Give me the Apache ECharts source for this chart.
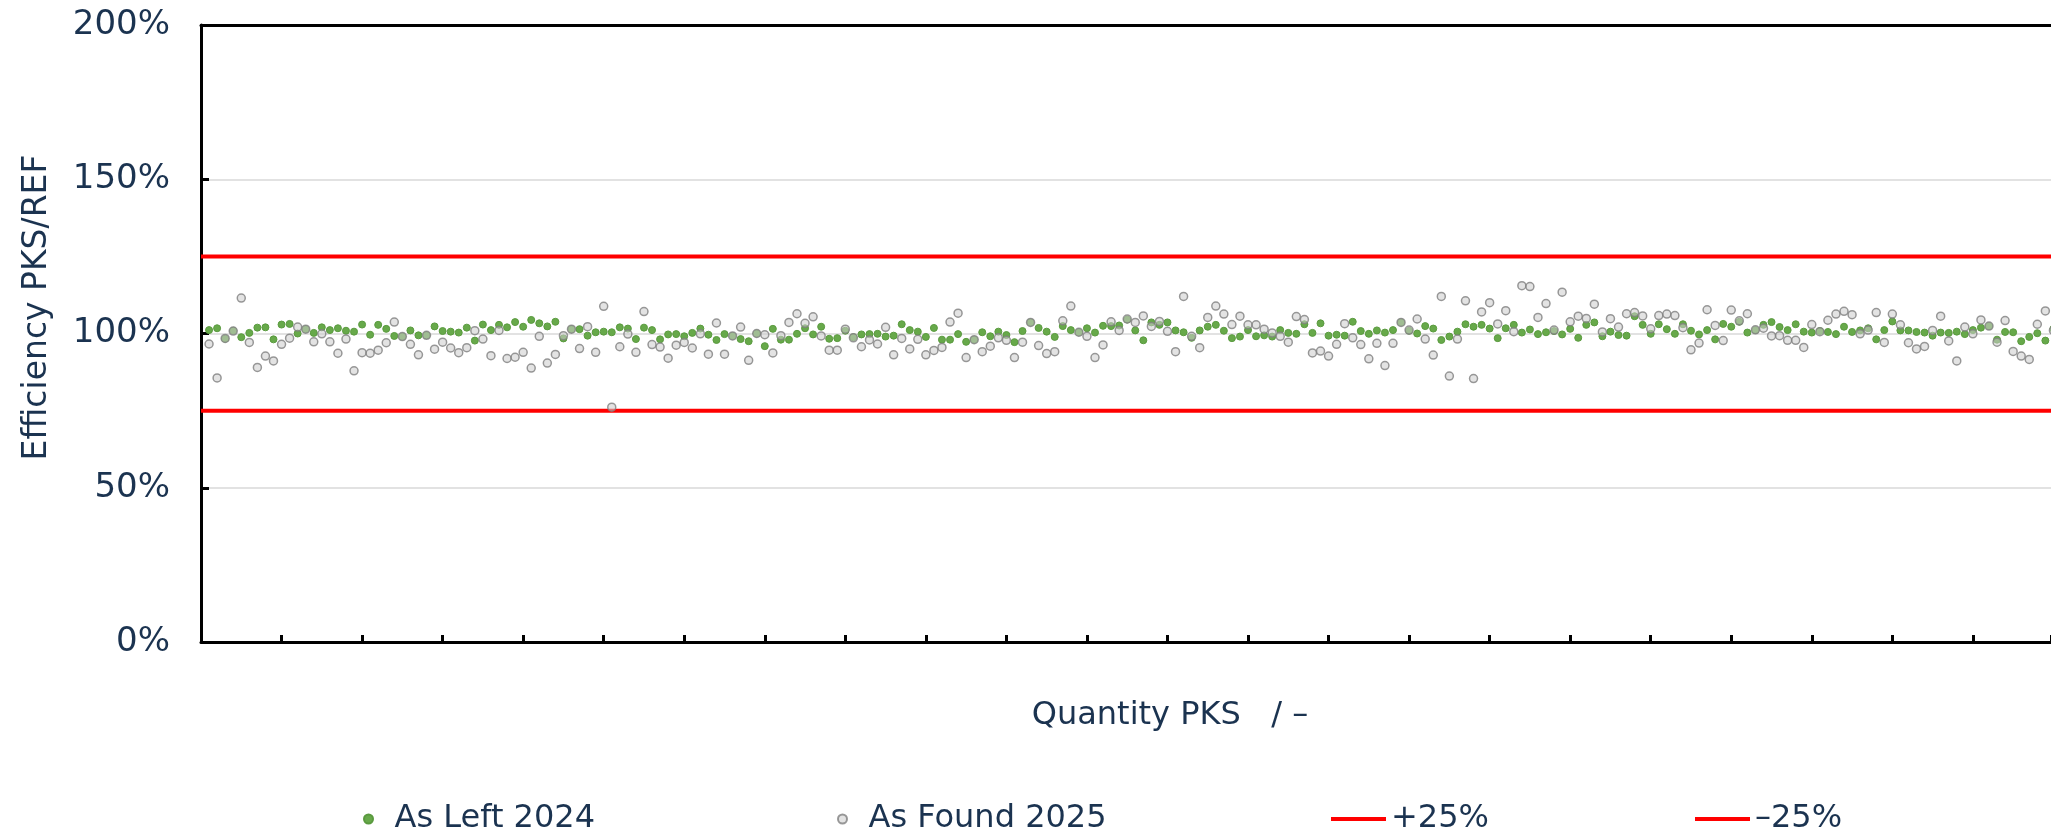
<!DOCTYPE html>
<html>
<head>
<meta charset="utf-8">
<title>Efficiency PKS/REF</title>
<script src="https://cdn.jsdelivr.net/npm/echarts@6.0.0/dist/echarts.min.js"></script>
<style>
  html, body { margin: 0; padding: 0; background: #fff; }
  #chart { width: 2051px; height: 834px; }
</style>
</head>
<body>
<div id="chart"></div>
<script>
// values, in percent, one per meter (index 1..230)
const asLeft2024 = [
  101.1, 101.7, 98.3, 100.9, 98.8, 100.2, 101.9, 102.0, 98.1, 102.9,
  103.1, 100.0, 101.4, 100.2, 102.0, 101.1, 101.7, 100.9, 100.6, 102.9,
  99.6, 102.8, 101.5, 99.2, 99.0, 101.0, 99.4, 99.4, 102.3, 100.8,
  100.6, 100.3, 101.9, 97.7, 102.9, 101.1, 102.8, 102.0, 103.7, 102.2,
  104.4, 103.3, 102.3, 103.8, 98.4, 101.4, 101.4, 99.3, 100.4, 100.6,
  100.4, 102.0, 101.6, 98.2, 101.9, 101.1, 98.1, 99.7, 99.8, 99.1,
  100.2, 101.6, 99.6, 97.9, 99.8, 99.2, 98.2, 97.5, 100.0, 95.9,
  101.5, 98.0, 98.0, 99.9, 101.7, 99.7, 102.2, 98.3, 98.5, 100.9,
  98.8, 99.7, 99.8, 99.9, 99.0, 99.3, 103.0, 101.1, 100.6, 98.9,
  101.8, 98.0, 98.0, 99.8, 97.3, 98.0, 100.4, 99.1, 100.6, 99.5,
  97.2, 100.8, 103.6, 101.8, 100.6, 98.9, 102.4, 101.1, 100.4, 101.7,
  100.3, 102.5, 102.4, 102.6, 104.5, 101.0, 97.8, 103.6, 102.8, 103.6,
  101.0, 100.4, 98.6, 101.0, 102.2, 102.8, 100.9, 98.5, 99.0, 101.1,
  99.1, 99.4, 99.0, 101.1, 100.2, 99.9, 103.0, 100.2, 103.3, 99.3,
  99.6, 99.3, 103.8, 100.8, 99.9, 101.0, 100.3, 101.1, 103.6, 100.9,
  100.0, 102.4, 101.6, 97.9, 99.0, 100.6, 103.0, 102.2, 102.8, 101.6,
  98.5, 101.7, 102.8, 100.3, 101.3, 99.8, 100.4, 100.8, 99.7, 101.5,
  98.6, 102.8, 103.6, 99.1, 100.6, 99.5, 99.3, 105.6, 102.8, 99.9,
  103.0, 101.4, 99.9, 103.0, 100.9, 99.7, 101.1, 98.1, 103.1, 102.2,
  103.8, 100.3, 101.1, 102.8, 103.7, 102.1, 101.1, 103.0, 100.6, 100.3,
  100.8, 100.5, 99.8, 102.2, 100.5, 101.0, 101.7, 98.1, 101.1, 103.9,
  101.0, 101.0, 100.5, 100.3, 99.3, 100.3, 100.2, 100.6, 99.8, 101.1,
  101.9, 102.4, 98.0, 100.5, 100.4, 97.5, 98.9, 100.1, 97.7, 101.5
];
const asFound2025 = [
  96.6, 85.6, 98.4, 100.8, 111.5, 97.1, 89.0, 92.7, 91.1, 96.5,
  98.5, 102.1, 101.4, 97.3, 99.9, 97.3, 93.6, 98.2, 87.9, 93.8,
  93.6, 94.6, 97.0, 103.7, 99.0, 96.5, 93.1, 99.4, 94.9, 97.2,
  95.3, 93.8, 95.4, 100.9, 98.2, 92.8, 101.0, 91.9, 92.3, 93.9,
  88.8, 99.1, 90.4, 93.2, 99.3, 101.4, 95.1, 102.2, 93.9, 108.8,
  76.1, 95.7, 99.8, 93.9, 107.1, 96.4, 95.6, 92.0, 96.2, 97.1,
  95.3, 99.9, 93.3, 103.4, 93.3, 99.2, 102.1, 91.3, 100.0, 99.6,
  93.7, 99.3, 103.6, 106.4, 103.3, 105.4, 99.2, 94.6, 94.6, 101.4,
  98.6, 95.7, 97.9, 96.6, 102.0, 93.1, 98.4, 95.0, 98.1, 93.1,
  94.5, 95.5, 103.7, 106.6, 92.2, 98.0, 94.1, 95.9, 98.6, 97.8,
  92.2, 97.2, 103.6, 96.1, 93.5, 94.1, 104.1, 108.9, 100.4, 99.1,
  92.2, 96.3, 103.8, 101.0, 104.7, 103.6, 105.7, 102.3, 103.9, 100.7,
  94.1, 112.0, 99.1, 95.4, 105.2, 108.9, 106.3, 102.9, 105.6, 102.8,
  102.8, 101.4, 100.2, 99.1, 97.2, 105.5, 104.5, 93.7, 94.3, 92.7,
  96.5, 103.2, 98.6, 96.4, 91.8, 96.8, 89.6, 96.8, 103.6, 101.1,
  104.7, 98.2, 93.0, 112.0, 86.2, 98.2, 110.6, 85.4, 107.0, 110.0,
  103.1, 107.4, 100.6, 115.5, 115.2, 105.2, 109.7, 101.1, 113.4, 103.8,
  105.6, 104.9, 109.5, 100.5, 104.8, 102.1, 106.4, 106.8, 105.7, 101.5,
  105.8, 106.3, 105.8, 101.9, 94.7, 96.9, 107.7, 102.6, 97.7, 107.6,
  104.1, 106.4, 101.2, 101.7, 99.2, 99.3, 97.8, 97.8, 95.5, 102.9,
  100.6, 104.3, 106.3, 107.2, 106.1, 99.9, 101.1, 106.8, 97.1, 106.3,
  102.8, 97.0, 95.0, 95.8, 101.0, 105.6, 97.6, 91.1, 102.1, 99.9,
  104.4, 102.4, 97.2, 104.2, 94.2, 92.7, 91.6, 103.0, 107.3, 101.0
];
// tolerance band
const upperLimit = 125;
const lowerLimit = 75;

const xMax = 229.7;
const navy = '#1b3350';
const font = 'DejaVu Sans';

const toPoints = arr => arr.map((v, i) => [i + 1, v]);
const band = v => [[0, v], [xMax, v]];

const chart = echarts.init(document.getElementById('chart'));

// one legend per entry so each sits where it does in the picture
const legendText = { color: navy, fontSize: 32, fontFamily: font };
const lineIcon = 'path://M0 0H55V4H0Z';
const legendAt = (name, left, wide, icon) => ({
  top: 798,
  left: left,
  itemWidth: wide,
  itemHeight: 9,
  textStyle: legendText,
  data: [icon ? { name: name, icon: icon } : name]
});

const option = {
  animation: false,
  textStyle: { fontFamily: font },
  grid: { left: 201, right: 0, top: 25, bottom: 192 },
  legend: [
    legendAt('As Left 2024', 358, 42),
    legendAt('As Found 2025', 832, 42),
    legendAt('+25%', 1326, 55, lineIcon),
    legendAt('–25%', 1690, 55, lineIcon)
  ],
  xAxis: [
    {
      type: 'value',
      min: 0,
      max: xMax,
      interval: 10,
      name: 'Quantity PKS   / –',
      nameLocation: 'middle',
      nameGap: 58,
      nameTextStyle: { color: navy, fontSize: 32, fontFamily: font, padding: [0, 0, 0, 88] },
      axisLine: { lineStyle: { color: '#000', width: 3 } },
      axisTick: { inside: true, length: 7, lineStyle: { color: '#000', width: 3 } },
      axisLabel: { show: false },
      splitLine: { show: false }
    },
    {
      // top frame line
      type: 'value',
      position: 'top',
      min: 0,
      max: xMax,
      axisLine: { lineStyle: { color: '#000', width: 3 } },
      axisTick: { show: false },
      axisLabel: { show: false },
      splitLine: { show: false }
    }
  ],
  yAxis: {
    type: 'value',
    min: 0,
    max: 200,
    interval: 50,
    name: 'Efficiency PKS/REF',
    nameLocation: 'middle',
    nameGap: 147,
    nameTextStyle: { color: navy, fontSize: 33, fontFamily: font, padding: [0, 0, 0, 52] },
    axisLine: { show: true, lineStyle: { color: '#000', width: 3 } },
    axisTick: { show: true, inside: true, length: 8, lineStyle: { color: '#000', width: 3 } },
    axisLabel: { color: navy, fontSize: 34, fontFamily: font, margin: 31, formatter: '{value}%' },
    splitLine: { lineStyle: { color: '#d9d9d9', width: 1.5 } }
  },
  series: [
    {
      name: '+25%',
      type: 'line',
      data: band(upperLimit),
      symbol: 'none',
      lineStyle: { color: '#ff0000', width: 4 },
      itemStyle: { color: '#ff0000' },
      z: 1
    },
    {
      name: '–25%',
      type: 'line',
      data: band(lowerLimit),
      symbol: 'none',
      lineStyle: { color: '#ff0000', width: 4 },
      itemStyle: { color: '#ff0000' },
      z: 1
    },
    {
      name: 'As Left 2024',
      type: 'scatter',
      data: toPoints(asLeft2024),
      symbolSize: 7,
      clip: false,
      itemStyle: { color: '#67a94a', borderColor: '#5a9a3f', borderWidth: 1, opacity: 1 },
      z: 3
    },
    {
      name: 'As Found 2025',
      type: 'scatter',
      data: toPoints(asFound2025),
      symbolSize: 8,
      clip: false,
      itemStyle: { color: 'rgba(205,205,205,0.7)', borderColor: '#7f7f7f', borderWidth: 1.5 },
      z: 4
    }
  ]
};

chart.setOption(option);
</script>
</body>
</html>
